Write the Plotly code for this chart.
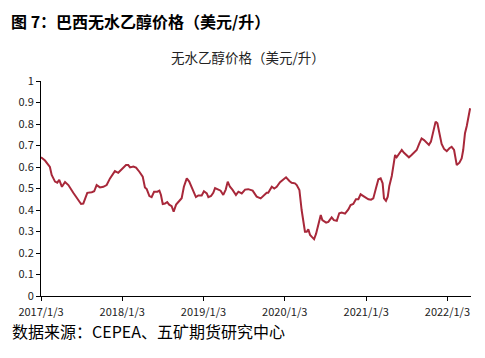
import plotly.graph_objects as go

dates = [
    "2017-01-03", "2017-01-21", "2017-02-12", "2017-02-20", "2017-03-07", "2017-03-17", "2017-03-26",
    "2017-04-07", "2017-04-21", "2017-05-06", "2017-05-28", "2017-06-20", "2017-07-02", "2017-07-12",
    "2017-07-20", "2017-07-30", "2017-08-19", "2017-08-30", "2017-09-10", "2017-09-25", "2017-10-10",
    "2017-10-25", "2017-11-09", "2017-12-01", "2017-12-16", "2018-01-01", "2018-01-20", "2018-01-30",
    "2018-02-07", "2018-02-22", "2018-03-06", "2018-03-21", "2018-04-05", "2018-04-15", "2018-04-23",
    "2018-05-05", "2018-05-15", "2018-05-26", "2018-06-10", "2018-06-19", "2018-06-26", "2018-07-04",
    "2018-07-14", "2018-07-24", "2018-08-02", "2018-08-13", "2018-08-22", "2018-09-02", "2018-09-12",
    "2018-09-27", "2018-10-07", "2018-10-20", "2018-10-31", "2018-11-11", "2018-11-30", "2018-12-11",
    "2018-12-26", "2019-01-05", "2019-01-18", "2019-01-25", "2019-02-06", "2019-02-16", "2019-02-24",
    "2019-03-11", "2019-03-21", "2019-04-02", "2019-04-13", "2019-04-22", "2019-05-02", "2019-05-13",
    "2019-05-29", "2019-06-09", "2019-06-24", "2019-07-09", "2019-07-23", "2019-08-12", "2019-08-30",
    "2019-09-17", "2019-10-02", "2019-10-14", "2019-10-21", "2019-11-06", "2019-11-17", "2019-11-28",
    "2019-12-13", "2019-12-28", "2020-01-09", "2020-01-24", "2020-02-03", "2020-02-18", "2020-02-26",
    "2020-03-09", "2020-03-19", "2020-04-03", "2020-04-11", "2020-04-18", "2020-04-26", "2020-05-03",
    "2020-05-14", "2020-05-23", "2020-06-02", "2020-06-13", "2020-06-20", "2020-07-07", "2020-07-17",
    "2020-08-01", "2020-08-11", "2020-08-24", "2020-09-04", "2020-09-15", "2020-09-30", "2020-10-15",
    "2020-10-25", "2020-11-06", "2020-11-18", "2020-11-29", "2020-12-09", "2020-12-21", "2021-01-02",
    "2021-01-13", "2021-01-25", "2021-02-04", "2021-02-16", "2021-02-27", "2021-03-09", "2021-03-18",
    "2021-03-24", "2021-04-02", "2021-04-10", "2021-04-17", "2021-04-28", "2021-05-05", "2021-05-13",
    "2021-05-20", "2021-06-01", "2021-06-12", "2021-06-22", "2021-07-04", "2021-07-14", "2021-07-26",
    "2021-08-06", "2021-08-18", "2021-08-30", "2021-09-09", "2021-09-20", "2021-10-02", "2021-10-12",
    "2021-10-21", "2021-11-01", "2021-11-11", "2021-11-19", "2021-11-28", "2021-12-08", "2021-12-19",
    "2021-12-31", "2022-01-12", "2022-01-22", "2022-02-02", "2022-02-14", "2022-02-26", "2022-03-08",
    "2022-03-15", "2022-03-23", "2022-03-31", "2022-04-10", "2022-04-15",
]

prices = [
    0.645, 0.630, 0.600, 0.563, 0.532, 0.527, 0.540,
    0.508, 0.530, 0.516, 0.480, 0.447, 0.428, 0.430,
    0.450, 0.480, 0.483, 0.487, 0.516, 0.505, 0.508,
    0.516, 0.547, 0.581, 0.573, 0.589, 0.609, 0.609,
    0.598, 0.602, 0.597, 0.578, 0.555, 0.505, 0.497,
    0.465, 0.460, 0.485, 0.485, 0.490, 0.470, 0.428,
    0.430, 0.437, 0.425, 0.418, 0.392, 0.425, 0.437,
    0.455, 0.508, 0.547, 0.532, 0.508, 0.460, 0.468,
    0.468, 0.487, 0.477, 0.460, 0.465, 0.480, 0.502,
    0.495, 0.490, 0.470, 0.495, 0.532, 0.508, 0.495,
    0.470, 0.485, 0.477, 0.495, 0.497, 0.490, 0.462,
    0.454, 0.470, 0.480, 0.480, 0.508, 0.500, 0.508,
    0.529, 0.540, 0.552, 0.535, 0.527, 0.524, 0.516,
    0.493, 0.400, 0.299, 0.299, 0.310, 0.284, 0.276,
    0.264, 0.290, 0.338, 0.377, 0.353, 0.341, 0.345,
    0.366, 0.353, 0.350, 0.385, 0.388, 0.383, 0.403,
    0.423, 0.428, 0.450, 0.450, 0.473, 0.465, 0.457,
    0.450, 0.448, 0.454, 0.501, 0.543, 0.547, 0.524,
    0.454, 0.443, 0.462, 0.512, 0.558, 0.601, 0.656,
    0.645, 0.664, 0.679, 0.666, 0.656, 0.645, 0.656,
    0.666, 0.679, 0.710, 0.733, 0.725, 0.713, 0.703,
    0.718, 0.772, 0.811, 0.803, 0.764, 0.707, 0.684,
    0.674, 0.687, 0.694, 0.679, 0.609, 0.620, 0.640,
    0.679, 0.757, 0.791, 0.857, 0.873,
]

tick_dates = ["2017-01-03", "2018-01-03", "2019-01-03", "2020-01-03", "2021-01-03", "2022-01-03"]
tick_labels = ["2017/1/3", "2018/1/3", "2019/1/3", "2020/1/3", "2021/1/3", "2022/1/3"]
y_ticks = [0, 0.1, 0.2, 0.3, 0.4, 0.5, 0.6, 0.7, 0.8, 0.9, 1]
y_labels = ["0", "0.1", "0.2", "0.3", "0.4", "0.5", "0.6", "0.7", "0.8", "0.9", "1"]

fig = go.Figure()
fig.add_trace(go.Scatter(
    x=dates, y=prices, mode="lines",
    line=dict(color="#A8283A", width=2),
    hoverinfo="skip", showlegend=False,
))

axis_font = dict(family="Noto Sans CJK SC, DejaVu Sans", size=11, color="#222222")

fig.update_layout(
    width=477, height=350,
    margin=dict(l=33, r=14, t=73, b=62),
    paper_bgcolor="white", plot_bgcolor="white",
    font=dict(family="Noto Sans CJK SC", color="#000000"),
    xaxis=dict(
        type="date", range=["2017-01-03", "2022-04-19"],
        tickvals=tick_dates, ticktext=tick_labels,
        showgrid=False, zeroline=False,
        showline=True, linecolor="#000000", linewidth=1,
        ticks="outside", ticklen=4, tickcolor="#000000",
        tickfont=axis_font, automargin=False, ticklabelstandoff=2,
    ),
    yaxis=dict(
        range=[0, 1], tickvals=y_ticks, ticktext=y_labels,
        showgrid=False, zeroline=False,
        showline=True, linecolor="#000000", linewidth=1,
        ticks="outside", ticklen=4, tickcolor="#000000",
        tickfont=axis_font, automargin=False,
    ),
    annotations=[
        dict(text="<b>图 7：巴西无水乙醇价格（美元/升）</b>", xref="paper", yref="paper",
             x=0, y=1, xanchor="left", yanchor="top", showarrow=False,
             font=dict(family="Noto Sans CJK SC", size=16, color="#000000"),
             borderpad=0, xshift=-31, yshift=73),
        dict(text="无水乙醇价格（美元/升）", xref="paper", yref="paper",
             x=0.5, y=1, xanchor="center", yanchor="middle", showarrow=False,
             font=dict(family="Noto Sans CJK SC", size=13.5, color="#222222"),
             xshift=-8, yshift=24),
        dict(text="数据来源：CEPEA、五矿期货研究中心", xref="paper", yref="paper",
             x=0, y=0, xanchor="left", yanchor="middle", showarrow=False,
             font=dict(family="Noto Sans CJK SC", size=16, color="#000000"),
             xshift=-31, yshift=-35),
    ],
)

fig.write_html("out.html")
